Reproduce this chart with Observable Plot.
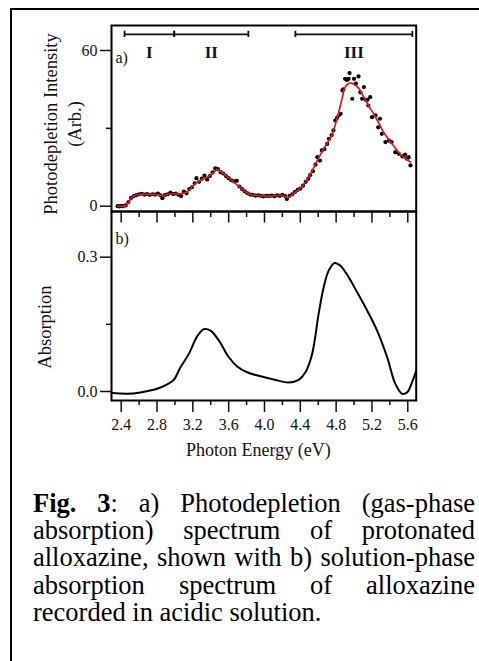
<!DOCTYPE html>
<html><head><meta charset="utf-8">
<script src="https://cdn.jsdelivr.net/npm/d3@7"></script>
<script src="https://cdn.jsdelivr.net/npm/@observablehq/plot@0.6"></script>
<style>
body{margin:0;background:#fff;}
#wrap{position:relative;width:479px;height:661px;overflow:hidden;font-family:"Liberation Serif","Times New Roman",serif;background:#fff;}
#box{position:absolute;left:10px;top:8px;width:700px;height:900px;border-left:2px solid #000;border-top:2px solid #000;}
#a{position:absolute;left:0;top:0;}
#b{position:absolute;left:0;top:201px;}
#cap{position:absolute;left:33px;top:490px;width:442px;font-size:26.5px;line-height:27.2px;color:#000;}
#cap div{text-align:justify;text-align-last:justify;}
#cap div.last{text-align-last:left;}
</style>
</head><body>
<div id="wrap">
<div id="box"></div>
<div id="a"></div>
<div id="b"></div>
<div id="cap">
<div><b>Fig. 3</b>: a) Photodepletion (gas-phase</div>
<div>absorption) spectrum of protonated</div>
<div>alloxazine, shown with b) solution-phase</div>
<div>absorption spectrum of alloxazine</div>
<div class="last">recorded in acidic solution.</div>
</div>
</div>
<script>
// ---- data ----
const xMajorTicks = [2.4, 2.8, 3.2, 3.6, 4.0, 4.4, 4.8, 5.2, 5.6];
const xMinorTicks = [2.6, 3.0, 3.4, 3.8, 4.2, 4.6, 5.0, 5.4];
const yTicksA = [0, 60];
const yMinorA = [30];
const yTicksB = [0, 0.3];
const yMinorB = [0.15];

const rangeLabels = ["I", "II", "III"];
const rangeStart = [2.437, 2.992, 4.345];
const rangeEnd = [2.992, 3.82, 5.651];

// photodepletion data points (eV, intensity)
const dotE = [2.36,2.38,2.40,2.42,2.45,2.48,2.51,2.54,2.57,2.60,2.63,2.66,2.69,2.72,2.75,2.78,2.81,2.84,2.86,2.89,2.92,2.95,2.98,3.01,3.04,3.07,3.10,3.13,3.16,3.19,3.22,3.24,3.27,3.30,3.33,3.36,3.39,3.42,3.45,3.48,3.51,3.54,3.57,3.60,3.63,3.66,3.69,3.72,3.75,3.78,3.81,3.84,3.87,3.90,3.93,3.96,3.99,4.02,4.05,4.08,4.11,4.14,4.17,4.20,4.23,4.25,4.28,4.31,4.34,4.37,4.40,4.43,4.46,4.49,4.51,4.54,4.57,4.59,4.62,4.64,4.67,4.70,4.72,4.75,4.77,4.79,4.81,4.83,4.85,4.87,4.88,4.90,4.92,4.94,4.95,4.98,5.00,5.02,5.05,5.07,5.09,5.11,5.13,5.15,5.16,5.18,5.20,5.24,5.27,5.29,5.31,5.35,5.39,5.42,5.46,5.50,5.54,5.57,5.59,5.61,5.63];
const dotI = [0.0,-0.1,0.1,0.0,0.3,1.6,3.2,3.9,4.3,4.6,4.8,4.5,4.7,4.4,4.6,4.5,4.9,4.2,3.1,4.3,4.6,5.2,4.7,4.9,4.4,3.9,5.6,5.0,6.6,7.3,8.8,10.8,9.4,10.6,11.8,10.3,11.6,13.0,14.6,14.3,13.1,12.6,11.6,10.8,10.0,9.6,9.8,7.6,6.6,5.7,5.0,4.5,4.4,4.1,4.2,4.0,3.8,4.0,3.9,4.1,3.8,4.2,4.0,4.4,3.9,2.8,4.0,4.6,5.5,6.3,6.8,7.9,9.4,10.6,12.0,13.5,16.0,18.9,17.6,21.5,22.0,24.0,26.0,27.4,29.2,33.0,34.0,35.0,35.6,44.6,45.0,49.1,48.6,49.1,51.3,41.4,49.1,47.2,50.0,43.9,41.4,45.9,41.0,41.0,38.8,42.0,34.3,35.0,30.4,33.7,27.9,24.7,25.3,24.7,20.8,20.2,19.2,19.9,18.3,18.9,15.7];

// smoothed fit (red)
const fitE = [2.36,2.46,2.52,2.59,2.67,2.75,2.82,2.87,2.93,3.00,3.06,3.13,3.20,3.28,3.37,3.42,3.47,3.50,3.55,3.60,3.66,3.75,3.82,3.88,3.94,4.07,4.20,4.26,4.33,4.40,4.49,4.59,4.66,4.75,4.81,4.87,4.90,4.95,5.00,5.05,5.11,5.16,5.22,5.28,5.33,5.41,5.48,5.55,5.63];
const fitI = [0.0,0.4,3.5,4.5,4.6,4.6,4.4,4.0,4.7,4.8,4.8,5.4,7.8,9.9,11.4,12.6,14.1,13.6,12.4,10.9,9.2,6.7,4.8,4.3,4.1,3.9,4.1,3.4,5.0,7.0,11.0,17.6,22.1,27.2,33.7,42.0,45.9,47.4,47.0,45.5,42.0,38.8,35.6,31.8,28.5,24.7,21.5,18.9,17.0];

// solution-phase absorption
const absE = [2.292,2.467,2.615,2.80,2.913,2.987,3.062,3.155,3.248,3.322,3.397,3.49,3.60,3.695,3.806,3.955,4.103,4.27,4.382,4.457,4.532,4.605,4.661,4.717,4.784,4.848,4.94,5.034,5.146,5.257,5.369,5.461,5.536,5.592,5.648,5.694];
const absA = [-0.003,-0.005,-0.002,0.006,0.016,0.026,0.054,0.084,0.123,0.139,0.136,0.114,0.077,0.056,0.043,0.034,0.027,0.020,0.026,0.043,0.084,0.174,0.233,0.270,0.287,0.281,0.255,0.222,0.181,0.136,0.077,0.017,-0.005,-0.002,0.021,0.046];

// ---- build ----
const dots = dotE.map((e, i) => ({e, v: dotI[i]}));
const fit = fitE.map((e, i) => ({e, v: fitI[i]}));
const abs = absE.map((e, i) => ({e, v: absA[i]}));
const ranges = rangeLabels.map((l, i) => ({label: l, x1: rangeStart[i], x2: rangeEnd[i]}));
const rangeEnds = ranges.flatMap(r => [r.x1, r.x2]);
const barY = 66.2, capH = 1.2, labY = 59.2;

const font = '"Liberation Serif","Times New Roman",serif';
const xDomain = [2.2917, 5.694];

const A = Plot.plot({
  width: 479, height: 212,
  marginLeft: 111, marginRight: 479 - 415.7, marginTop: 25, marginBottom: 1,
  x: {domain: xDomain, axis: null},
  y: {domain: [-2.04, 69.63]},
  style: {fontFamily: font, fontSize: "16px", color: "#111", background: "transparent", overflow: "visible"},
  marks: [
    Plot.axisY({ticks: yTicksA, tickSize: 11, tickPadding: 3, label: null, strokeWidth: 1.5}),
    Plot.axisY({ticks: yMinorA, tickSize: 5, text: null, label: null, strokeWidth: 1.5}),
    Plot.text(["Photodepletion Intensity\n(Arb.)"], {text: d => d, frameAnchor: "left", rotate: -90, textAnchor: "middle", lineAnchor: "middle", dx: -50.2, dy: 5.5, fontSize: 18.5, lineHeight: 1.27, fill: "#111"}),
    Plot.text(["a)"], {text: d => d, frameAnchor: "top-left", textAnchor: "start", lineAnchor: "middle", dx: 4, dy: 32, fontSize: 16, fill: "#111"}),
    Plot.ruleY(ranges, {x1: "x1", x2: "x2", y: barY, strokeWidth: 1.8, stroke: "#111"}),
    Plot.ruleX(rangeEnds, {x: d => d, y1: barY - capH, y2: barY + capH, strokeWidth: 1.8, stroke: "#111"}),
    Plot.text(ranges, {x: d => (d.x1 + d.x2) / 2, y: labY, text: "label", fontWeight: "bold", fontSize: 17, fill: "#111"}),
    Plot.dot(dots, {x: "e", y: "v", r: 2.1, fill: "#000"}),
    Plot.line(fit, {x: "e", y: "v", stroke: "#e3161b", strokeWidth: 1.7, curve: "catmull-rom"}),
    Plot.frame({strokeWidth: 2, stroke: "#000"})
  ]
});
document.getElementById("a").appendChild(A);

const B = Plot.plot({
  width: 479, height: 260,
  marginLeft: 111, marginRight: 479 - 415.7, marginTop: 10, marginBottom: 260 - 199,
  x: {domain: xDomain},
  y: {domain: [-0.0201, 0.402]},
  style: {fontFamily: font, fontSize: "16px", color: "#111", background: "transparent", overflow: "visible"},
  marks: [
    Plot.axisY({ticks: yTicksB, tickFormat: ".1f", tickSize: 11, tickPadding: 3, label: null, strokeWidth: 1.5}),
    Plot.axisY({ticks: yMinorB, tickSize: 5, text: null, label: null, strokeWidth: 1.5}),
    Plot.axisX({anchor: "bottom", ticks: xMajorTicks, tickFormat: ".1f", tickSize: 12, tickPadding: 6, label: null, strokeWidth: 1.5}),
    Plot.axisX({anchor: "bottom", ticks: xMinorTicks, tickSize: 5, text: null, label: null, strokeWidth: 1.5}),
    Plot.axisX({anchor: "top", ticks: xMajorTicks, tickSize: -10.5, text: null, label: null, strokeWidth: 1.5}),
    Plot.axisX({anchor: "top", ticks: xMinorTicks, tickSize: -5, text: null, label: null, strokeWidth: 1.5}),
    Plot.text(["Photon Energy (eV)"], {text: d => d, frameAnchor: "bottom", textAnchor: "middle", lineAnchor: "middle", dx: -5.5, dy: 50, fontSize: 18, fill: "#111"}),
    Plot.text(["Absorption"], {text: d => d, frameAnchor: "left", rotate: -90, textAnchor: "middle", lineAnchor: "middle", dx: -66, dy: 21, fontSize: 18.5, fill: "#111"}),
    Plot.text(["b)"], {text: d => d, frameAnchor: "top-left", textAnchor: "start", lineAnchor: "middle", dx: 4, dy: 27, fontSize: 16, fill: "#111"}),
    Plot.line(abs, {x: "e", y: "v", stroke: "#000", strokeWidth: 2, curve: "catmull-rom"}),
    Plot.frame({strokeWidth: 2, stroke: "#000"})
  ]
});
document.getElementById("b").appendChild(B);
</script>
</body></html>
